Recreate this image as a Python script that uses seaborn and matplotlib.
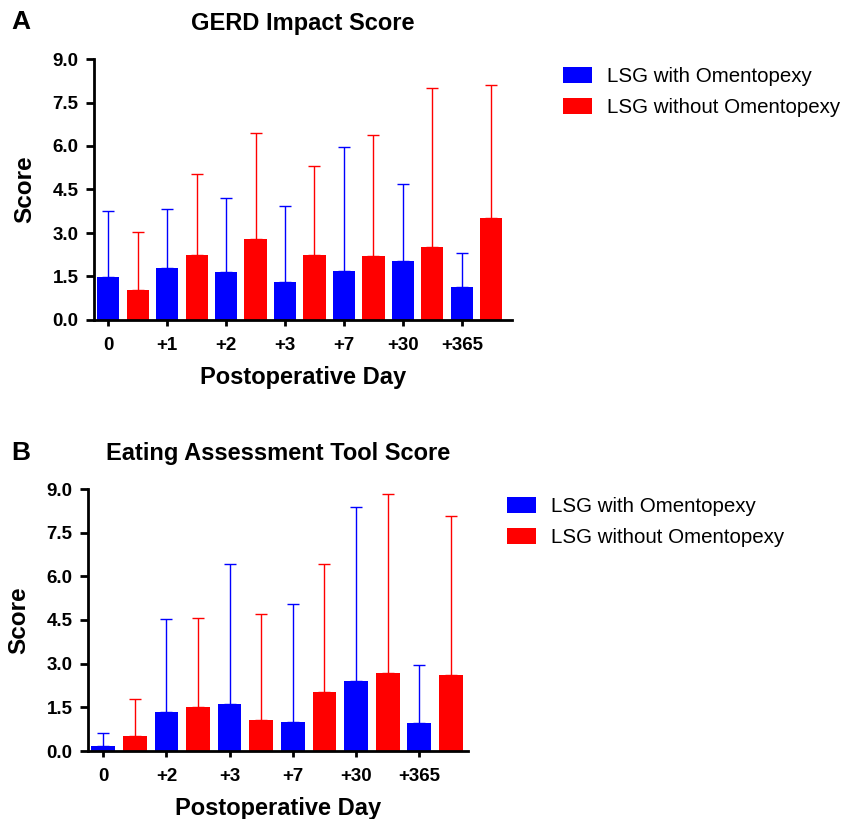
import numpy as np
import pandas as pd
import matplotlib
matplotlib.use("Agg")
import matplotlib.pyplot as plt
import seaborn as sns

# Panel A: GERD Impact Score (mean and upper end of error bar)
days_a = ["0", "+1", "+2", "+3", "+7", "+30", "+365"]
gerd_with = [1.47, 1.79, 1.64, 1.30, 1.68, 2.05, 1.15]
gerd_with_top = [3.75, 3.82, 4.21, 3.92, 5.97, 4.68, 2.32]
gerd_without = [1.05, 2.25, 2.78, 2.25, 2.22, 2.53, 3.53]
gerd_without_top = [3.03, 5.02, 6.44, 5.31, 6.37, 8.00, 8.10]

# Panel B: Eating Assessment Tool Score
days_b = ["0", "+2", "+3", "+7", "+30", "+365"]
eat_with = [0.17, 1.33, 1.62, 1.01, 2.39, 0.95]
eat_with_top = [0.62, 4.53, 6.44, 5.06, 8.39, 2.96]
eat_without = [0.53, 1.52, 1.08, 2.01, 2.69, 2.62]
eat_without_top = [1.80, 4.56, 4.72, 6.44, 8.83, 8.08]

groups = ["LSG with Omentopexy", "LSG without Omentopexy"]
colors = ["#0000ff", "#ff0000"]

sns.set_style("ticks")
plt.rcParams["font.family"] = ["Liberation Sans", "DejaVu Sans"]
plt.rcParams["font.weight"] = "bold"
plt.rcParams["text.color"] = "black"
plt.rcParams["axes.labelcolor"] = "black"
plt.rcParams["xtick.color"] = "black"
plt.rcParams["ytick.color"] = "black"

fig = plt.figure(figsize=(8.58, 8.19), dpi=100)
W, H = 858, 819


def px_axes(l, r, t, b):
    return fig.add_axes([l / W, 1 - b / H, (r - l) / W, (b - t) / H])


def panel(ax, days, m_with, t_with, m_without, t_without, title, xlim, leg_xy, letter, letter_xy):
    df = pd.DataFrame({
        "day": days * 2,
        "group": [groups[0]] * len(days) + [groups[1]] * len(days),
        "score": m_with + m_without,
    })
    sns.barplot(data=df, x="day", y="score", hue="group", order=days,
                hue_order=groups, palette=colors, width=1.0, gap=0.25,
                errorbar=None, linewidth=0, saturation=1, ax=ax)
    # one-sided (upper) error bars, drawn from the bar tops
    tops = [t_with, t_without]
    for cont, top, col in zip(ax.containers, tops, colors):
        xs = [p.get_x() + p.get_width() / 2 for p in cont.patches]
        hs = [p.get_height() for p in cont.patches]
        up = np.array(top) - np.array(hs)
        ax.errorbar(xs, hs, yerr=[np.zeros(len(hs)), up], fmt="none",
                    ecolor=col, elinewidth=1, capsize=4, capthick=1, zorder=1)
    blue_x = [p.get_x() + p.get_width() / 2 for p in ax.containers[0].patches]
    ax.set_xticks(blue_x)
    ax.set_xticklabels(days)
    ax.set_xlim(*xlim)
    ax.set_ylim(0, 9)
    ax.set_yticks(np.arange(0, 9.01, 1.5))
    ax.set_yticklabels([f"{v:.1f}" for v in np.arange(0, 9.01, 1.5)])
    sns.despine(ax=ax)
    for s in ["left", "bottom"]:
        ax.spines[s].set_linewidth(2)
        ax.spines[s].set_color("black")
    ax.tick_params(axis="y", length=6, width=2, pad=5, labelsize=13.5)
    ax.tick_params(axis="x", length=4, width=2, pad=8, labelsize=13.5)
    for lab in ax.get_xticklabels() + ax.get_yticklabels():
        lab.set_fontweight("bold")
    ax.set_xlabel("Postoperative Day", fontsize=17, fontweight="bold", labelpad=9)
    ax.set_ylabel("Score", fontsize=17.5, fontweight="bold", labelpad=12)
    ax.set_title(title, fontsize=17, fontweight="bold", pad=21)
    handles, labels = ax.get_legend_handles_labels()
    ax.get_legend().remove()
    fig.legend(handles, labels, loc="upper left",
               bbox_to_anchor=(leg_xy[0] / W, 1 - leg_xy[1] / H),
               frameon=False, borderpad=0, borderaxespad=0,
               handlelength=1.4, handleheight=0.8, handletextpad=0.72,
               labelspacing=0.6, prop={"size": 14.8, "weight": "normal"})
    fig.text(letter_xy[0] / W, 1 - letter_xy[1] / H, letter, fontsize=19,
             fontweight="bold", va="top", ha="left")


ax_a = px_axes(94, 512, 59, 320)
panel(ax_a, days_a, gerd_with, gerd_with_top, gerd_without, gerd_without_top,
      "GERD Impact Score", (-0.49, 6.6), (563, 67), "A", (11, 10))

ax_b = px_axes(88, 468, 489, 751)
panel(ax_b, days_b, eat_with, eat_with_top, eat_without, eat_without_top,
      "Eating Assessment Tool Score", (-0.49, 5.52), (507, 497), "B", (11, 441))

fig.savefig("out.png", dpi=100)
